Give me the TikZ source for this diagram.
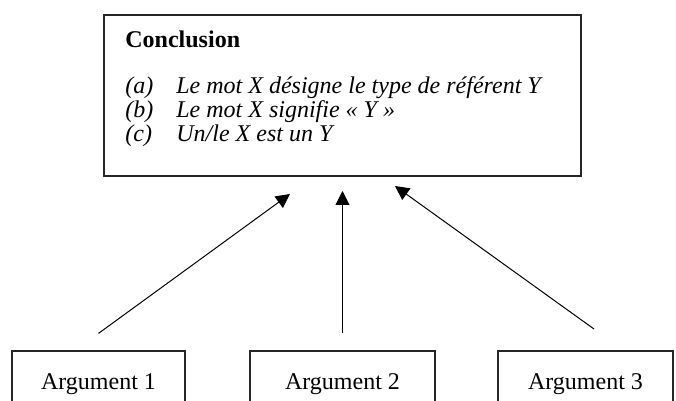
\documentclass[tikz,border=0pt]{standalone}
\usepackage{fontspec}
\setmainfont{Liberation Serif}
\usepackage{tikz}
\usetikzlibrary{positioning, arrows.meta}

\begin{document}
\begin{tikzpicture}[x=0.5pt, y=-0.5pt,
        conclbox/.style={rectangle, draw=black!85, line width=0.6pt, minimum width=238.5pt, minimum height=80.5pt, inner sep=0pt},
        argbox/.style={rectangle, draw=black!85, line width=0.6pt, minimum height=33pt, inner sep=0pt, font=\fontsize{12}{14}\selectfont},
        txt/.style={inner sep=0pt, anchor=base west, font=\fontsize{12}{14}\selectfont\itshape},
        arrow/.style={-{Triangle[length=7pt,width=7pt]}, line width=0.5pt, black}%
    ]
        \useasboundingbox (0,0) rectangle (676,401);
        \clip (0,0) rectangle (676,401);

        % conclusion
        \node[conclbox] (concl) at (342.5,95.5) {};
        \node[txt, font=\fontsize{12}{14}\selectfont\bfseries] (ctitle) at (125,48) {Conclusion};
        \node[txt] (la) at (125,94) {(a)};
        \node[txt] (ta) at (176,94) {Le mot X désigne le type de référent Y};
        \node[txt] (lb) at (125,118) {(b)};
        \node[txt] (tb) at (176,118) {Le mot X signifie « Y »};
        \node[txt] (lc) at (125,142) {(c)};
        \node[txt] (tc) at (176,142) {Un/le X est un Y};

        % arguments
        \node[argbox, minimum width=86.5pt] (arg1) at (98.5,384) {Argument 1};
        \node[argbox, minimum width=92.5pt] (arg2) at (342.5,384) {Argument 2};
        \node[argbox, minimum width=87.5pt] (arg3) at (585.5,384) {Argument 3};

        \coordinate (tip1) at (290,194);
        \coordinate (tip2) at (342.5,191);
        \coordinate (tip3) at (395,186);
        \coordinate (foot3) at (594,329);

        \draw[arrow] ([yshift=8.5pt]arg1.north) -- (tip1);
        \draw[arrow] ([yshift=8.5pt]arg2.north) -- (tip2);
        \draw[arrow] (foot3) -- (tip3);
    \end{tikzpicture}
\end{document}
